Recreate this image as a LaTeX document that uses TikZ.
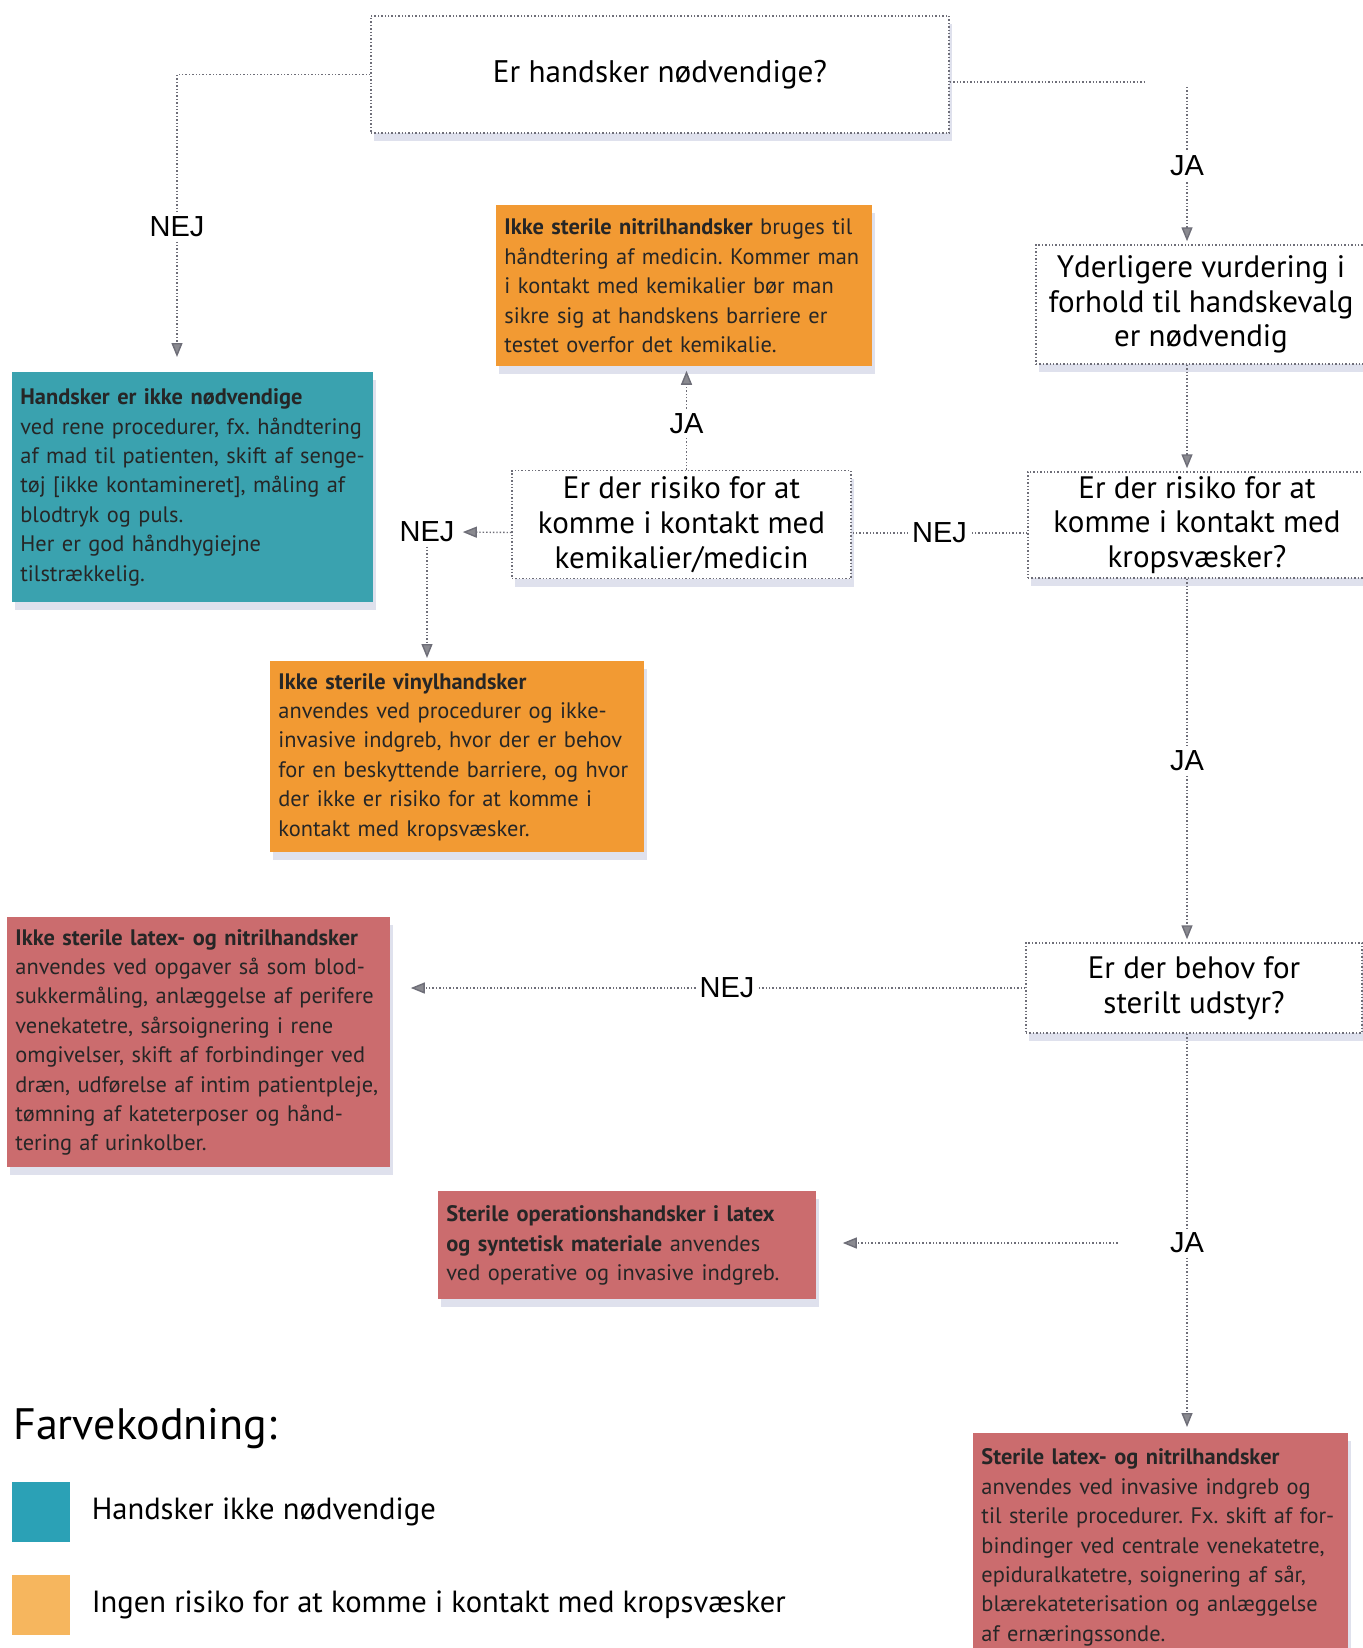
\documentclass[tikz,border=0pt]{standalone}
\usepackage{fontspec}
\setmainfont{PT Sans}
\newfontfamily\lblfont{Liberation Sans}
\usepackage{xcolor}
\usepackage{tikz}
\usetikzlibrary{positioning,arrows.meta,shadows}
\frenchspacing

\definecolor{linegray}{HTML}{6E6E78}
\definecolor{tipgray}{HTML}{8A8A90}
\definecolor{tealbox}{HTML}{3AA2AF}
\definecolor{orangebox}{HTML}{F29A33}
\definecolor{redbox}{HTML}{CB6C6E}
\definecolor{legteal}{HTML}{2BA1B6}
\definecolor{legorange}{HTML}{F6B65E}
\definecolor{shadowblue}{HTML}{B8BCD8}

\begin{document}
\begin{tikzpicture}[x=0.5pt,y=-0.5pt,
    link/.style={draw=linegray, line width=0.7pt, dash pattern=on 0.7pt off 1pt},
    conn/.style={link, -{Triangle[length=7pt,width=5.5pt,fill=tipgray]}, shorten >=1.5pt},
    lbl/.style={fill=white, inner sep=2pt, font=\lblfont\fontsize{14.5}{16}\selectfont},
    shadowed/.style={drop shadow={shadow xshift=1.5pt, shadow yshift=-4pt, opacity=0.45, fill=shadowblue}},
    qbox/.style={draw=linegray, line width=0.7pt, dash pattern=on 0.7pt off 1pt, fill=white,
        align=center, inner sep=0pt, shadowed, font=\fontsize{15.5}{17.4}\selectfont},
    infobox/.style={anchor=north west, align=left, inner xsep=4pt, inner ysep=0pt, shadowed,
        text=black!85, font=\fontsize{11.2}{14.7}\selectfont},
    legsq/.style={minimum width=29pt, minimum height=30pt, inner sep=0pt},
    legtxt/.style={inner sep=0pt, font=\fontsize{15.3}{18}\selectfont}
]
    \useasboundingbox (0,0) rectangle (1363,1648);
    \clip (0,0) rectangle (1363,1648);

    % Questions
    \node [qbox, minimum width=289pt, minimum height=58.5pt, font=\fontsize{15.6}{18}\selectfont]
        (top) at (660,74.5) {Er handsker nødvendige?};
    \node [qbox, minimum width=165pt, minimum height=59.5pt]
        (yder) at (1201,304.5) {Yderligere vurdering i\\forhold til handskevalg\\er nødvendig};
    \node [qbox, minimum width=169.5pt, minimum height=54pt]
        (mid) at (681.5,524.5) {Er der risiko for at\\komme i kontakt med\\kemikalier/medicin};
    \node [qbox, minimum width=169pt, minimum height=53pt]
        (kropq) at (1197,525) {Er der risiko for at\\komme i kontakt med\\kropsvæsker?};
    \node [qbox, minimum width=168pt, minimum height=45pt]
        (behov) at (1194,988) {Er der behov for\\sterilt udstyr?};

    % Glove boxes
    \node [infobox, fill=orangebox, text width=180pt, minimum height=80.5pt] (nitril) at (496,205)
        {\textbf{Ikke sterile nitrilhandsker} bruges til\\
         håndtering af medicin. Kommer man\\
         i kontakt med kemikalier bør man\\
         sikre sig at handskens barriere er\\
         testet overfor det kemikalie.};
    \node [infobox, fill=tealbox, text width=172.5pt, minimum height=115pt] (teal) at (12,372)
        {\textbf{Handsker er ikke nødvendige}\\
         ved rene procedurer, fx. håndtering\\
         af mad til patienten, skift af senge-\\
         tøj [ikke kontamineret], måling af\\
         blodtryk og puls.\\
         Her er god håndhygiejne\\
         tilstrækkelig.};
    \node [infobox, fill=orangebox, text width=179pt, minimum height=95.5pt] (vinyl) at (270,661)
        {\textbf{Ikke sterile vinylhandsker}\\
         anvendes ved procedurer og ikke-\\
         invasive indgreb, hvor der er behov\\
         for en beskyttende barriere, og hvor\\
         der ikke er risiko for at komme i\\
         kontakt med kropsvæsker.};
    \node [infobox, fill=redbox, text width=183.5pt, minimum height=125pt] (red1) at (7,917)
        {\textbf{Ikke sterile latex- og nitrilhandsker}\\
         anvendes ved opgaver så som blod-\\
         sukkermåling, anlæggelse af perifere\\
         venekatetre, sårsoignering i rene\\
         omgivelser, skift af forbindinger ved\\
         dræn, udførelse af intim patientpleje,\\
         tømning af kateterposer og hånd-\\
         tering af urinkolber.};
    \node [infobox, fill=redbox, text width=181pt, minimum height=54pt] (red2) at (438,1191)
        {\textbf{Sterile operationshandsker i latex}\\
         \textbf{og syntetisk materiale} anvendes\\
         ved operative og invasive indgreb.};
    \node [infobox, fill=redbox, text width=179.5pt, minimum height=114pt] (red3) at (973,1433)
        {\textbf{Sterile latex- og nitrilhandsker}\\
         anvendes ved invasive indgreb og\\
         til sterile procedurer. Fx. skift af for-\\
         bindinger ved centrale venekatetre,\\
         epiduralkatetre, soignering af sår,\\
         blærekateterisation og anlæggelse\\
         af ernæringssonde.};

    % Connectors
    \coordinate (nejTip) at (177,357);
    \coordinate (jaEnd) at (1145,82);
    \coordinate (jaStart) at (1187,87);
    \draw [conn, shorten >=0pt] (top.west) -| node [lbl, pos=0.77] {NEJ} (nejTip);
    \draw [link] ([yshift=-3.75pt]top.east) -- (jaEnd);
    \draw [conn] (jaStart) -- node [lbl] {JA} (jaStart |- yder.north);
    \draw [conn] (jaStart |- yder.south) -- (jaStart |- kropq.north);
    \draw [link] ([yshift=-4pt]kropq.west) -- node [lbl] {NEJ} ([yshift=-4pt]kropq.west -| mid.east);
    \draw [conn, shorten >=2pt] ([xshift=2.5pt]mid.north) -- node [lbl, pos=0.45] {JA}
        ([xshift=2.5pt]mid.north |- nitril.south);

    \node [lbl] (nejB) at (427,532) {NEJ};
    \draw [conn, shorten >=2pt] ([yshift=-4pt]mid.west) -- (nejB.east);
    \draw [conn] (nejB.south) -- (nejB.south |- vinyl.north);

    \draw [conn] (jaStart |- kropq.south) -- node [lbl] {JA} (jaStart |- behov.north);
    \draw [conn, shorten >=10pt] (behov.west) -- node [lbl, pos=0.47] {NEJ} (behov.west -| red1.east);

    \node [lbl] (jaC) at (1187,1243) {JA};
    \draw [link] (jaStart |- behov.south) -- (jaC.north);
    \draw [conn, shorten >=3pt] (jaC.south) -- (jaC.south |- red3.north);
    \draw [conn, shorten <=24pt, shorten >=13pt] (jaC.west) -- (jaC.west -| red2.east);

    % Legend
    \node [anchor=west, inner sep=0pt, font=\fontsize{22}{26}\selectfont] (legTitle) at (13,1429) {Farvekodning:};
    \node [legsq, fill=legteal] (legTeal) at (41,1512) {};
    \node [legtxt, right=10.5pt of legTeal] (legTealTxt) {Handsker ikke nødvendige};
    \node [legsq, fill=legorange] (legOrange) at (41,1604.5) {};
    \node [legtxt, right=10.5pt of legOrange] (legOrangeTxt) {Ingen risiko for at komme i kontakt med kropsvæsker};
\end{tikzpicture}
\end{document}
